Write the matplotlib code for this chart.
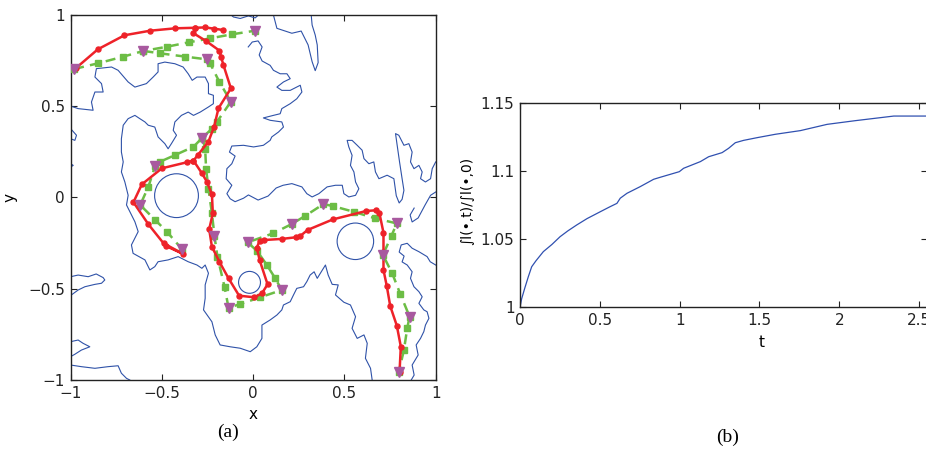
import matplotlib as mpl
mpl.use('Agg')
import matplotlib.pyplot as plt
from matplotlib.patches import Circle
import numpy as np

# ---- panel (a): level-set boundaries, obstacles, swarm paths ----
main_contour = [(-1.0, 0.501), (-0.959, 0.487), (-0.877, 0.478), (-0.886, 0.523), (-0.867, 0.578),
                (-0.822, 0.578), (-0.831, 0.624), (-0.867, 0.660), (-0.859, 0.706), (-0.776, 0.715),
                (-0.740, 0.697), (-0.685, 0.633), (-0.648, 0.605), (-0.585, 0.624), (-0.548, 0.660),
                (-0.521, 0.688), (-0.521, 0.733), (-0.484, 0.742), (-0.429, 0.733), (-0.384, 0.715),
                (-0.356, 0.678), (-0.334, 0.642), (-0.308, 0.660), (-0.263, 0.660), (-0.245, 0.624),
                (-0.245, 0.569), (-0.218, 0.560), (-0.218, 0.514), (-0.245, 0.496), (-0.290, 0.468),
                (-0.327, 0.450), (-0.356, 0.468), (-0.393, 0.450), (-0.429, 0.414), (-0.438, 0.368),
                (-0.420, 0.341), (-0.448, 0.295), (-0.466, 0.267), (-0.484, 0.295), (-0.521, 0.332),
                (-0.539, 0.386), (-0.575, 0.396), (-0.593, 0.414), (-0.621, 0.432), (-0.648, 0.450),
                (-0.685, 0.432), (-0.712, 0.396), (-0.722, 0.322), (-0.722, 0.249), (-0.712, 0.195),
                (-0.722, 0.140), (-0.703, 0.085), (-0.685, 0.012), (-0.694, -0.041), (-0.648, -0.133),
                (-0.630, -0.187), (-0.667, -0.260), (-0.658, -0.306), (-0.593, -0.342), (-0.566, -0.397),
                (-0.539, -0.379), (-0.521, -0.352), (-0.466, -0.342), (-0.411, -0.324), (-0.356, -0.352),
                (-0.308, -0.370), (-0.281, -0.388), (-0.263, -0.370), (-0.245, -0.415), (-0.263, -0.479),
                (-0.263, -0.552), (-0.272, -0.616), (-0.226, -0.681), (-0.208, -0.753), (-0.181, -0.808),
                (-0.126, -0.818), (-0.071, -0.826), (-0.016, -0.845), (0.020, -0.818), (0.048, -0.772),
                (0.048, -0.699), (0.093, -0.671), (0.130, -0.644), (0.157, -0.616), (0.166, -0.589),
                (0.203, -0.571), (0.221, -0.534), (0.239, -0.498), (0.276, -0.489), (0.294, -0.461),
                (0.312, -0.425), (0.334, -0.407), (0.351, -0.443), (0.396, -0.370), (0.411, -0.425),
                (0.433, -0.476), (0.466, -0.479), (0.451, -0.534), (0.497, -0.574), (0.533, -0.589),
                (0.561, -0.653), (0.542, -0.717), (0.570, -0.772), (0.607, -0.753), (0.625, -0.799),
                (0.615, -0.881), (0.643, -0.936), (0.652, -1.0)]

ridge_contour = [(-0.027, 0.825), (-0.005, 0.852), (0.027, 0.858), (0.049, 0.825), (0.033, 0.781),
                 (0.049, 0.748), (0.093, 0.724), (0.111, 0.697), (0.148, 0.678), (0.185, 0.678),
                 (0.203, 0.651), (0.166, 0.633), (0.130, 0.605), (0.157, 0.587), (0.203, 0.587),
                 (0.258, 0.615), (0.267, 0.578), (0.239, 0.541), (0.203, 0.514), (0.157, 0.487),
                 (0.148, 0.459), (0.111, 0.450), (0.056, 0.436), (0.093, 0.423), (0.157, 0.414),
                 (0.166, 0.386), (0.139, 0.359), (0.102, 0.332), (0.093, 0.313), (0.056, 0.286),
                 (0.002, 0.277), (-0.053, 0.286), (-0.117, 0.282), (-0.130, 0.249), (-0.099, 0.227),
                 (-0.117, 0.185), (-0.144, 0.158), (-0.148, 0.103), (-0.117, 0.067), (-0.144, 0.021),
                 (-0.126, -0.007), (-0.099, -0.023), (-0.053, -0.004), (-0.026, 0.014), (0.027, -0.014),
                 (0.082, 0.008), (0.126, 0.052), (0.164, 0.067), (0.212, 0.076), (0.267, 0.058),
                 (0.294, 0.021), (0.323, 0.003), (0.360, 0.021), (0.405, 0.058), (0.451, 0.067),
                 (0.488, 0.067), (0.497, 0.021), (0.524, 0.003), (0.561, 0.012), (0.579, 0.048),
                 (0.561, 0.085), (0.552, 0.140), (0.533, 0.176), (0.542, 0.231), (0.524, 0.277),
                 (0.515, 0.313), (0.542, 0.313), (0.570, 0.286), (0.597, 0.259), (0.607, 0.213),
                 (0.634, 0.185), (0.661, 0.195), (0.670, 0.140), (0.689, 0.103), (0.734, 0.122),
                 (0.771, 0.103), (0.784, 0.010), (0.800, -0.030), (0.816, -0.010), (0.826, 0.039),
                 (0.816, 0.103), (0.802, 0.195), (0.789, 0.286), (0.780, 0.350), (0.798, 0.341),
                 (0.826, 0.286), (0.853, 0.295), (0.871, 0.249), (0.862, 0.195), (0.881, 0.158),
                 (0.908, 0.176), (0.926, 0.140), (0.917, 0.103), (0.944, 0.085), (0.972, 0.103),
                 (0.981, 0.158), (1.0, 0.195)]

top_bump = [(-0.121, 1.0), (-0.108, 0.989), (-0.071, 0.981), (-0.026, 0.995), (0.011, 0.984), (0.029, 1.0)]
top_finger = [(0.111, 1.0), (0.130, 0.927), (0.212, 0.900), (0.263, 0.912), (0.301, 0.836),
              (0.323, 0.744), (0.340, 0.695), (0.356, 0.739), (0.351, 0.836), (0.340, 0.890),
              (0.323, 0.945), (0.318, 1.0)]
right_hook = [(1.0, 0.030), (0.972, 0.012), (0.942, -0.041), (0.904, -0.112), (0.871, -0.134),
              (0.860, -0.096), (0.882, -0.058)]
right_lower = [(1.0, -0.370), (0.970, -0.352), (0.953, -0.324), (0.908, -0.297), (0.871, -0.278),
               (0.844, -0.251), (0.811, -0.260), (0.800, -0.299), (0.827, -0.321), (0.816, -0.353),
               (0.844, -0.370), (0.871, -0.407), (0.862, -0.443), (0.881, -0.489), (0.908, -0.516),
               (0.926, -0.544), (0.908, -0.580), (0.935, -0.616), (0.953, -0.626), (0.963, -0.662),
               (0.944, -0.699), (0.935, -0.735), (0.917, -0.772), (0.893, -0.808), (0.904, -0.863),
               (0.871, -0.918), (0.882, -0.973), (0.866, -1.0)]
left_tongue = [(-1.0, -0.434), (-0.959, -0.425), (-0.904, -0.434), (-0.860, -0.419), (-0.822, -0.439),
               (-0.813, -0.452), (-0.831, -0.470), (-0.867, -0.476), (-0.922, -0.489), (-0.959, -0.507),
               (-0.996, -0.534), (-1.0, -0.544)]
left_lower1 = [(-1.0, -0.790), (-0.959, -0.781), (-0.932, -0.799), (-0.895, -0.818), (-0.941, -0.836),
               (-0.977, -0.859), (-1.0, -0.872)]
left_lower2 = [(-1.0, -0.918), (-0.941, -0.927), (-0.867, -0.936), (-0.795, -0.927), (-0.740, -0.922),
               (-0.722, -0.963), (-0.694, -0.991), (-0.676, -1.0)]
left_bump1 = [(-1.0, 0.377), (-0.968, 0.341), (-0.977, 0.313), (-1.0, 0.322)]
left_bump2 = [(-1.0, 0.185), (-0.986, 0.176), (-1.0, 0.167)]

contours = [main_contour, ridge_contour, top_bump, top_finger, right_hook, right_lower,
            left_tongue, left_lower1, left_lower2, left_bump1, left_bump2]

# obstacles: (centre x, centre y, radius)
obstacles = [(-0.42, 0.01, 0.12), (0.56, -0.24, 0.10), (-0.02, -0.465, 0.06)]

red_paths = [
    [(-0.97, 0.71), (-0.851, 0.812), (-0.705, 0.889), (-0.564, 0.914), (-0.427, 0.927),
     (-0.318, 0.930), (-0.263, 0.932), (-0.214, 0.925), (-0.166, 0.918)],
    [(-0.318, 0.930), (-0.327, 0.90), (-0.259, 0.858), (-0.185, 0.805), (-0.175, 0.768),
     (-0.163, 0.726), (-0.122, 0.598), (-0.190, 0.489), (-0.214, 0.388), (-0.245, 0.306),
     (-0.303, 0.233), (-0.327, 0.202), (-0.363, 0.193), (-0.500, 0.160), (-0.610, 0.072),
     (-0.656, -0.026), (-0.574, -0.147), (-0.491, -0.251), (-0.382, -0.310), (-0.48, -0.265)],
    [(-0.327, 0.202), (-0.281, 0.133), (-0.254, 0.087), (-0.226, 0.017), (-0.221, -0.087),
     (-0.241, -0.174), (-0.226, -0.27), (-0.185, -0.352), (-0.135, -0.443), (-0.077, -0.538),
     (0.007, -0.547), (0.048, -0.525), (0.079, -0.476), (0.035, -0.342), (0.020, -0.275),
     (0.035, -0.238), (0.060, -0.233), (0.157, -0.227), (0.234, -0.218), (0.258, -0.211),
     (0.298, -0.178), (0.437, -0.120), (0.619, -0.074), (0.674, -0.070), (0.692, -0.087),
     (0.714, -0.193), (0.714, -0.297), (0.714, -0.397), (0.732, -0.485), (0.751, -0.595),
     (0.787, -0.702), (0.809, -0.817), (0.802, -0.955)],
]

green_paths = [
    [(-0.981, 0.704), (-0.851, 0.735), (-0.711, 0.772), (-0.601, 0.803), (-0.473, 0.826),
     (-0.354, 0.850), (-0.236, 0.872), (-0.117, 0.894), (0.011, 0.914)],
    [(-0.601, 0.803), (-0.510, 0.790), (-0.373, 0.772), (-0.254, 0.757), (-0.236, 0.735),
     (-0.185, 0.633), (-0.122, 0.525), (-0.199, 0.414), (-0.226, 0.377), (-0.278, 0.328),
     (-0.327, 0.278), (-0.427, 0.233), (-0.510, 0.196), (-0.537, 0.174), (-0.574, 0.059),
     (-0.619, -0.041), (-0.537, -0.123), (-0.473, -0.187), (-0.391, -0.282)],
    [(-0.278, 0.328), (-0.263, 0.267), (-0.258, 0.158), (-0.245, 0.048), (-0.226, -0.087),
     (-0.212, -0.211), (-0.196, -0.324), (-0.157, -0.489), (-0.135, -0.604), (-0.071, -0.584),
     (0.038, -0.547), (0.157, -0.507), (0.121, -0.443), (0.075, -0.370), (0.020, -0.291),
     (-0.031, -0.246), (0.111, -0.196), (0.212, -0.145), (0.285, -0.101), (0.385, -0.036),
     (0.437, -0.047), (0.550, -0.078), (0.668, -0.114), (0.787, -0.142), (0.758, -0.209),
     (0.711, -0.315), (0.762, -0.416), (0.807, -0.531), (0.857, -0.653), (0.844, -0.717),
     (0.826, -0.836), (0.798, -0.955)],
]

waypoints = [(-0.981, 0.704), (-0.601, 0.803), (0.011, 0.914), (-0.254, 0.757), (-0.122, 0.525),
             (-0.278, 0.328), (-0.537, 0.174), (-0.619, -0.041), (-0.391, -0.282), (-0.212, -0.211),
             (-0.135, -0.604), (0.157, -0.507), (-0.031, -0.246), (0.212, -0.145), (0.385, -0.036),
             (0.787, -0.142), (0.711, -0.315), (0.857, -0.653), (0.798, -0.955)]

# ---- panel (b): normalised integral over time ----
t_vals = [0, 0.01, 0.03, 0.052, 0.073, 0.10, 0.146, 0.20, 0.251, 0.30, 0.355, 0.42, 0.502, 0.56,
          0.607, 0.628, 0.670, 0.753, 0.837, 0.879, 0.998, 1.025, 1.130, 1.182, 1.266, 1.307,
          1.349, 1.40, 1.485, 1.60, 1.757, 1.924, 2.10, 2.342, 2.56]
ratio_vals = [1.0, 1.006, 1.014, 1.0223, 1.0296, 1.034, 1.0407, 1.046, 1.0517, 1.056, 1.0603,
              1.065, 1.070, 1.0735, 1.0762, 1.080, 1.0836, 1.0885, 1.0939, 1.0954, 1.0995, 1.102,
              1.1069, 1.1105, 1.1135, 1.1167, 1.1208, 1.1225, 1.1245, 1.127, 1.1297, 1.1343,
              1.137, 1.1404, 1.1404]

ticks_a = [-1, -0.5, 0, 0.5, 1]
ticklabels_a = ['\u22121', '\u22120.5', '0', '0.5', '1']
xticks_b = [0, 0.5, 1, 1.5, 2, 2.5]
xticklabels_b = ['0', '0.5', '1', '1.5', '2', '2.5']
yticks_b = [1, 1.05, 1.1, 1.15]
yticklabels_b = ['1', '1.05', '1.1', '1.15']

BLUE = '#2f52a8'
RED = '#ee2229'
GREEN = '#6cbd45'
PURPLE = '#a8599f'

plt.rcParams['font.family'] = ['DejaVu Sans']
plt.rcParams['font.size'] = 11


def style_axes(ax):
    ax.tick_params(direction='in', length=4, width=0.8, top=True, right=True, labelsize=11,
                   colors='#222222', pad=4)
    for s in ax.spines.values():
        s.set_linewidth(1.0)
        s.set_color('#222222')


fig = plt.figure(figsize=(9.26, 4.49), dpi=100)

ax1 = fig.add_axes([0.0763, 0.1537, 0.3942, 0.8129])
for c in contours:
    xs, ys = zip(*c)
    ax1.plot(xs, ys, color=BLUE, lw=0.8)
for cx, cy, r in obstacles:
    ax1.add_patch(Circle((cx, cy), r, fill=False, ec=BLUE, lw=0.8))
for p in green_paths:
    xs, ys = zip(*p)
    ax1.plot(xs, ys, color=GREEN, lw=1.8, ls=(0, (4, 2.5)), marker='s', ms=4.2,
             mec=GREEN, mfc=GREEN, zorder=3)
for p in red_paths:
    xs, ys = zip(*p)
    ax1.plot(xs, ys, color=RED, lw=1.8, marker='o', ms=3.6, mec=RED, mfc=RED, zorder=4)
wx, wy = zip(*waypoints)
ax1.plot(wx, wy, ls='none', marker='v', ms=7, color=PURPLE, mec=PURPLE, zorder=5)
ax1.set_xlim(-1, 1)
ax1.set_ylim(-1, 1)
ax1.set_xticks(ticks_a)
ax1.set_xticklabels(ticklabels_a)
ax1.set_yticks(ticks_a)
ax1.set_yticklabels(ticklabels_a)
style_axes(ax1)
ax1.set_xlabel('x', fontsize=11)
ax1.xaxis.set_label_coords(0.5, -0.075)
ax1.set_ylabel('y', fontsize=11)
ax1.yaxis.set_label_coords(-0.145, 0.5)

ax2 = fig.add_axes([0.5616, 0.3163, 0.4400, 0.4543])
ax2.plot(t_vals, ratio_vals, color='#3050b0', lw=0.9)
ax2.set_xlim(0, 2.553)
ax2.set_ylim(1, 1.15)
ax2.set_xticks(xticks_b)
ax2.set_xticklabels(xticklabels_b)
ax2.set_yticks(yticks_b)
ax2.set_yticklabels(yticklabels_b)
style_axes(ax2)
ax2.set_xlabel('t', fontsize=11)
ax2.xaxis.set_label_coords(0.592, -0.135)
ax2.set_ylabel('\u222bl(\u2022,t)/\u222bl(\u2022,0)', fontsize=10)
ax2.yaxis.set_label_coords(-0.113, 0.52)

fig.text(0.246, 0.038, '(a)', family='Liberation Serif', fontsize=14, ha='center', va='center')
fig.text(0.786, 0.027, '(b)', family='Liberation Serif', fontsize=14, ha='center', va='center')

fig.savefig('out.png', dpi=100)
